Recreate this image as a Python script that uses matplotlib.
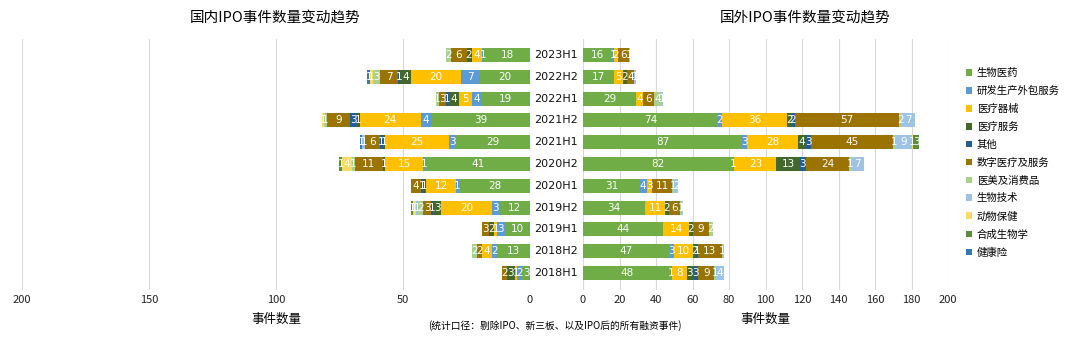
import matplotlib
matplotlib.use("Agg")

import matplotlib.pyplot as plt
from matplotlib.patches import Patch
from matplotlib.transforms import blended_transform_factory

plt.rcParams["font.family"] = ["Noto Sans CJK SC", "DejaVu Sans"]

periods = ["2018H1", "2018H2", "2019H1", "2019H2", "2020H1", "2020H2",
           "2021H1", "2021H2", "2022H1", "2022H2", "2023H1"]

sectors = ["生物医药", "研发生产外包服务", "医疗器械", "医疗服务", "其他",
           "数字医疗及服务", "医美及消费品", "生物技术", "动物保健",
           "合成生物学", "健康险"]

colors = ["#70AD47", "#5B9BD5", "#FFC000", "#43682B", "#255E91",
          "#9A7300", "#A9D18E", "#9DC3E6", "#FFD966", "#5A8F3C", "#3A78B5"]

# domestic counts per sector, one list per sector in period order (2018H1 .. 2023H1)
dom_bio = [3, 13, 10, 12, 28, 41, 29, 39, 19, 20, 18]
dom_cro = [2, 2, 3, 3, 1, 1, 3, 4, 4, 7, 1]
dom_device = [1, 4, 1, 20, 12, 15, 25, 24, 5, 20, 4]
dom_service = [3, 0, 2, 3, 1, 1, 1, 1, 4, 4, 2]
dom_other = [0, 0, 0, 1, 1, 0, 1, 3, 1, 1, 0]
dom_digital = [2, 2, 3, 3, 4, 11, 6, 9, 3, 7, 6]
dom_beauty = [0, 2, 0, 2, 0, 1, 0, 1, 1, 3, 2]
dom_biotech = [0, 0, 0, 1, 0, 0, 1, 0, 0, 0, 0]
dom_animal = [0, 0, 0, 1, 0, 4, 0, 1, 0, 1, 0]
dom_synbio = [0, 0, 0, 1, 0, 1, 0, 0, 0, 0, 0]
dom_insur = [0, 0, 0, 0, 0, 0, 1, 0, 0, 1, 0]

# overseas counts per sector
ovs_bio = [48, 47, 44, 34, 31, 82, 87, 74, 29, 17, 16]
ovs_cro = [1, 3, 0, 0, 4, 1, 3, 2, 0, 0, 1]
ovs_device = [8, 10, 14, 11, 3, 23, 28, 36, 4, 5, 2]
ovs_service = [3, 2, 2, 2, 0, 13, 4, 2, 0, 2, 0]
ovs_other = [3, 1, 0, 0, 0, 3, 3, 2, 0, 0, 0]
ovs_digital = [9, 13, 9, 6, 11, 24, 45, 57, 6, 4, 6]
ovs_beauty = [1, 1, 2, 1, 1, 1, 1, 2, 4, 0, 0]
ovs_biotech = [4, 0, 0, 1, 2, 7, 9, 7, 1, 1, 1]
ovs_animal = [0, 0, 0, 0, 0, 0, 1, 0, 0, 0, 0]
ovs_synbio = [0, 0, 0, 0, 0, 0, 3, 0, 0, 0, 0]
ovs_insur = [0, 0, 0, 0, 0, 0, 0, 0, 0, 0, 0]

domestic = [dom_bio, dom_cro, dom_device, dom_service, dom_other, dom_digital,
            dom_beauty, dom_biotech, dom_animal, dom_synbio, dom_insur]
overseas = [ovs_bio, ovs_cro, ovs_device, ovs_service, ovs_other, ovs_digital,
            ovs_beauty, ovs_biotech, ovs_animal, ovs_synbio, ovs_insur]

W, H = 1080, 339
fig = plt.figure(figsize=(W / 100, H / 100), dpi=100)

bottom = 1 - 289.5 / H
height = (289.5 - 38.5) / H
ax_l = fig.add_axes([22 / W, bottom, (530 - 22) / W, height])
ax_r = fig.add_axes([583 / W, bottom, (948 - 583) / W, height])

ypos = list(range(len(periods)))
bar_h = 0.64


def draw_stack(ax, data):
    left = [0] * len(periods)
    for vals, col in zip(data, colors):
        ax.barh(ypos, vals, left=left, height=bar_h, color=col, linewidth=0)
        for i, v in enumerate(vals):
            if v > 0:
                ax.text(left[i] + v / 2, i, str(v), ha="center", va="center",
                        color="white", fontsize=7.5, family="DejaVu Sans")
        left = [a + b for a, b in zip(left, vals)]


draw_stack(ax_l, domestic)
draw_stack(ax_r, overseas)

ax_l.set_xlim(200, 0)
ax_l.set_xticks([200, 150, 100, 50, 0])
ax_r.set_xlim(0, 200)
ax_r.set_xticks(range(0, 201, 20))

for ax in (ax_l, ax_r):
    ax.set_ylim(-0.75, len(periods) - 0.25)
    ax.set_yticks([])
    ax.grid(axis="x", color="#d9d9d9", linewidth=0.8)
    ax.set_axisbelow(True)
    for s in ax.spines.values():
        s.set_visible(False)
    ax.tick_params(axis="x", length=0, labelsize=8, pad=4, colors="#222222")
    ax.set_xlabel("事件数量", fontsize=9, labelpad=6)

# period labels between the two panels
trans = blended_transform_factory(fig.transFigure, ax_l.transData)
for i, p in enumerate(periods):
    ax_l.text(556 / W, i, p, transform=trans, ha="center", va="center",
              fontsize=8, family="DejaVu Sans", color="#111111")

fig.text(275 / W, 1 - 18 / H, "国内IPO事件数量变动趋势", ha="center", va="center",
         fontsize=10.5)
fig.text(805 / W, 1 - 18 / H, "国外IPO事件数量变动趋势", ha="center", va="center",
         fontsize=10.5)
fig.text(555 / W, 1 - 326 / H, "(统计口径：剔除IPO、新三板、以及IPO后的所有融资事件)",
         ha="center", va="center", fontsize=7, style="italic")

handles = [Patch(facecolor=c, edgecolor="none") for c in colors]
fig.legend(handles, sectors, loc="upper left", bbox_to_anchor=(962 / W, 1 - 64 / H),
           frameon=False, fontsize=7.5, handlelength=0.6, handleheight=0.6,
           handletextpad=0.4, labelspacing=0.75, borderaxespad=0)

fig.savefig("out.png", dpi=100)
